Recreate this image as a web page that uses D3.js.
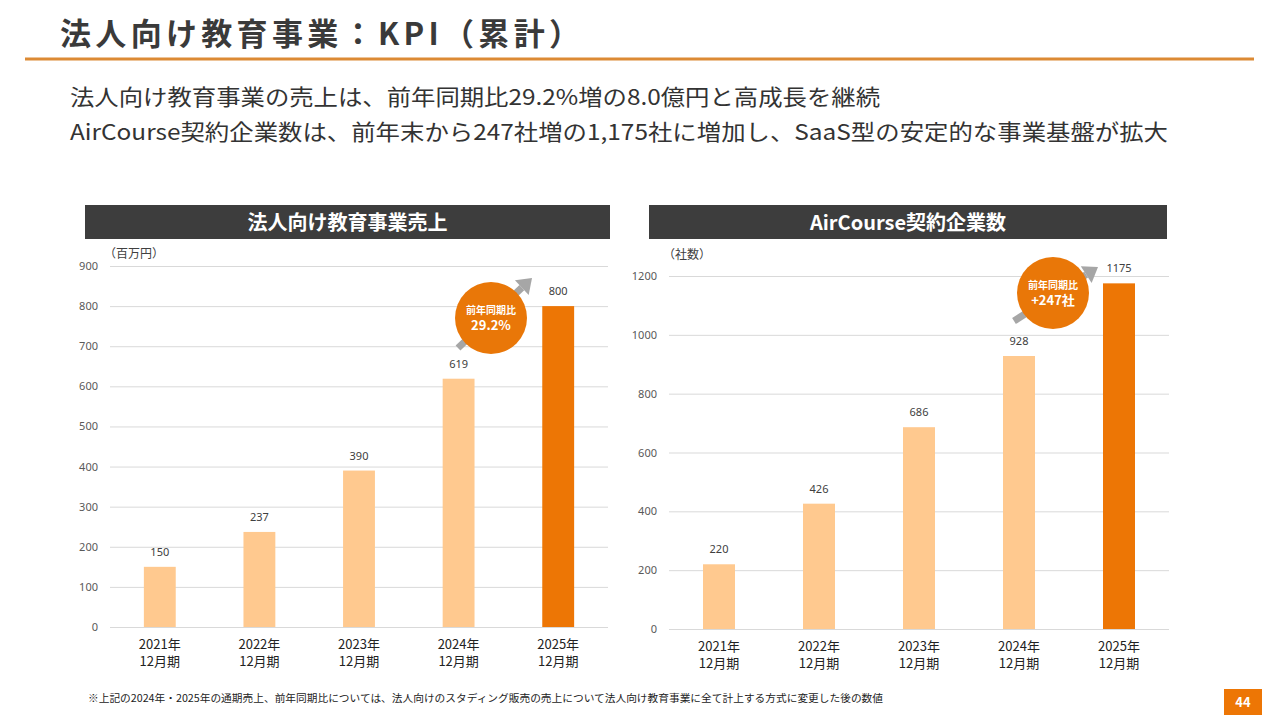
<!DOCTYPE html>
<html lang="ja">
<head>
<meta charset="utf-8">
<title>法人向け教育事業：KPI（累計）</title>
<script src="https://cdn.jsdelivr.net/npm/d3@7"></script>
<style>
  body { margin: 0; background: #fff; }
  svg { font-family: "Noto Sans CJK JP", "Noto Sans", sans-serif; }
</style>
</head>
<body>
<svg id="slide" width="1280" height="720"></svg>
<script>
// data
var periods = ["2021年", "2022年", "2023年", "2024年", "2025年"];
var periodSub = "12月期";
var sales = [150, 237, 390, 619, 800];
var salesTicks = [0, 100, 200, 300, 400, 500, 600, 700, 800, 900];
var clients = [220, 426, 686, 928, 1175];
var clientTicks = [0, 200, 400, 600, 800, 1000, 1200];

var svg = d3.select("#slide");
var orange = "#ed7605";
var peach = "#ffc98f";
var textGrey = "#404040";

// title
svg.append("text").attr("x", 60).attr("y", 45)
  .attr("font-size", 31).attr("font-weight", "bold").attr("fill", "#3a3a3a")
  .attr("textLength", 520).attr("lengthAdjust", "spacing")
  .text("法人向け教育事業：KPI（累計）");
svg.append("line").attr("x1", 25).attr("x2", 1254).attr("y1", 59).attr("y2", 59)
  .attr("stroke", "#dc8a34").attr("stroke-width", 3);

svg.append("text").attr("x", 70).attr("y", 105)
  .attr("font-size", 22).attr("fill", "#333")
  .attr("textLength", 810).attr("lengthAdjust", "spacingAndGlyphs")
  .text("法人向け教育事業の売上は、前年同期比29.2%増の8.0億円と高成長を継続");
svg.append("text").attr("x", 70).attr("y", 140)
  .attr("font-size", 22).attr("fill", "#333")
  .attr("textLength", 1098).attr("lengthAdjust", "spacingAndGlyphs")
  .text("AirCourse契約企業数は、前年末から247社増の1,175社に増加し、SaaS型の安定的な事業基盤が拡大");

// one chart panel
function drawChart(opt) {
  var g = svg.append("g");

  g.append("rect").attr("x", opt.hx).attr("y", 205).attr("width", opt.hw).attr("height", 34)
    .attr("fill", "#3d3d3d");
  g.append("text").attr("x", opt.hx + opt.hw / 2).attr("y", 230)
    .attr("text-anchor", "middle").attr("font-size", 20).attr("font-weight", "bold")
    .attr("fill", "#fff").text(opt.title);

  var x = d3.scaleBand().domain(periods).range([opt.x0, opt.x1]).paddingInner(0.68).paddingOuter(0.34);
  var y = d3.scaleLinear().domain([0, d3.max(opt.ticks)]).range([opt.y0, opt.yTop]);

  var yAxis = g.append("g").attr("transform", "translate(" + opt.x0 + ",0)")
    .call(d3.axisLeft(y).tickValues(opt.ticks).tickFormat(d3.format("d"))
      .tickSize(-(opt.x1 - opt.x0)).tickPadding(12));
  yAxis.select(".domain").remove();
  yAxis.selectAll(".tick line").attr("stroke", "#d9d9d9").attr("stroke-width", 1);
  yAxis.selectAll(".tick text").attr("fill", "#595959").attr("font-size", 11)
    .attr("font-family", "Noto Sans, sans-serif");

  g.append("text").attr("x", opt.x0 - 6).attr("y", opt.unitY)
    .attr("font-size", 12).attr("fill", textGrey).text(opt.unit);

  g.selectAll(".bar").data(opt.values).enter().append("rect")
    .attr("x", function(d, i) { return x(periods[i]); })
    .attr("y", function(d) { return y(d); })
    .attr("width", x.bandwidth())
    .attr("height", function(d) { return opt.y0 - y(d); })
    .attr("fill", function(d, i) { return i === periods.length - 1 ? orange : peach; });

  g.selectAll(".val").data(opt.values).enter().append("text")
    .attr("x", function(d, i) { return x(periods[i]) + x.bandwidth() / 2; })
    .attr("y", function(d) { return y(d) - 11; })
    .attr("text-anchor", "middle").attr("font-size", 11).attr("fill", textGrey)
    .attr("font-family", "Noto Sans, sans-serif")
    .text(function(d) { return d; });

  var cat = g.selectAll(".cat").data(periods).enter().append("text")
    .attr("x", function(d) { return x(d) + x.bandwidth() / 2; })
    .attr("y", opt.y0 + 22)
    .attr("text-anchor", "middle").attr("font-size", 13).attr("fill", "#222");
  cat.append("tspan").text(function(d) { return d; });
  cat.append("tspan").attr("x", function(d) { return x(d) + x.bandwidth() / 2; })
    .attr("dy", 17).text(periodSub);

  // growth badge
  var a = opt.arrow;
  var ang = Math.atan2(a[3] - a[1], a[2] - a[0]);
  var head = 14;
  var bx = a[2] - head * Math.cos(ang), by = a[3] - head * Math.sin(ang);
  g.append("line").attr("x1", a[0]).attr("y1", a[1]).attr("x2", bx).attr("y2", by)
    .attr("stroke", "#a6a6a6").attr("stroke-width", 7);
  var px = Math.sin(ang) * 10, py = -Math.cos(ang) * 10;
  g.append("path")
    .attr("d", "M" + a[2] + "," + a[3] + "L" + (bx + px) + "," + (by + py) + "L" + (bx - px) + "," + (by - py) + "Z")
    .attr("fill", "#a6a6a6");
  g.append("circle").attr("cx", opt.badge[0]).attr("cy", opt.badge[1]).attr("r", 36)
    .attr("fill", "#e97708");
  g.append("text").attr("x", opt.badge[0]).attr("y", opt.badge[1] - 4)
    .attr("text-anchor", "middle").attr("font-size", 10).attr("font-weight", "bold")
    .attr("fill", "#fff").text("前年同期比");
  g.append("text").attr("x", opt.badge[0]).attr("y", opt.badge[1] + 12)
    .attr("text-anchor", "middle").attr("font-size", 13).attr("font-weight", "bold")
    .attr("fill", "#fff").text(opt.badgeText);
}

drawChart({
  title: "法人向け教育事業売上", hx: 85, hw: 525,
  x0: 110, x1: 608, y0: 627, yTop: 266, unitY: 258,
  values: sales, ticks: salesTicks, unit: "（百万円）",
  badge: [491, 318], arrow: [458, 348, 532, 278], badgeText: "29.2%"
});

drawChart({
  title: "AirCourse契約企業数", hx: 649, hw: 518,
  x0: 669, x1: 1169, y0: 629, yTop: 276, unitY: 259,
  values: clients, ticks: clientTicks, unit: "（社数）",
  badge: [1053, 293], arrow: [1014, 321, 1098, 267], badgeText: "+247社"
});

// footnote and page number
svg.append("text").attr("x", 88).attr("y", 702).attr("font-size", 10).attr("fill", "#222")
  .attr("textLength", 795).attr("lengthAdjust", "spacingAndGlyphs")
  .text("※上記の2024年・2025年の通期売上、前年同期比については、法人向けのスタディング販売の売上について法人向け教育事業に全て計上する方式に変更した後の数値");
svg.append("rect").attr("x", 1224).attr("y", 689).attr("width", 38).attr("height", 26).attr("fill", orange);
svg.append("text").attr("x", 1243).attr("y", 707).attr("text-anchor", "middle")
  .attr("font-size", 13).attr("font-weight", "bold").attr("fill", "#fff").text("44");
</script>
</body>
</html>
